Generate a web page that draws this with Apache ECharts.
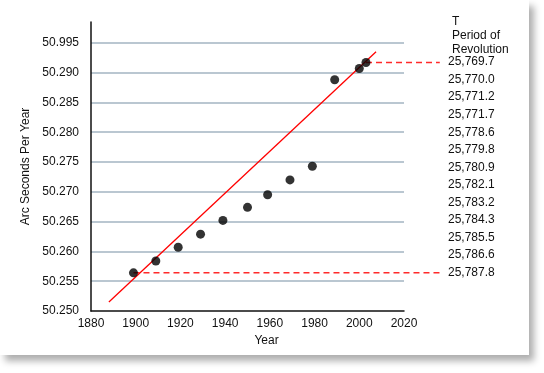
<!DOCTYPE html>
<html>
<head>
<meta charset="utf-8">
<script src="https://cdn.jsdelivr.net/npm/echarts@6/dist/echarts.min.js"></script>
<style>
html,body{margin:0;padding:0;background:#fff;}
#card{position:absolute;left:0;top:0;width:529px;height:355px;background:#fff;box-shadow:5px 6px 7px rgba(0,0,0,0.32);}
#chart{position:absolute;left:0;top:0;width:544px;height:373px;}
</style>
</head>
<body>
<div id="card"></div>
<div id="chart"></div>
<script>
// ---- data ----
const years = [1899, 1909, 1919, 1929, 1939, 1950, 1959, 1969, 1979, 1989, 2000, 2003];
const arcSeconds = [50.2564, 50.2584, 50.2607, 50.2629, 50.2652, 50.2674, 50.2695, 50.2720, 50.2743, 50.2888, 50.2907, 50.2917];
const trendYears = [1888, 2007.5];
const trendValues = [50.2515, 50.2935];
const yTickValues = [50.250, 50.255, 50.260, 50.265, 50.270, 50.275, 50.280, 50.285, 50.290, 50.295];
const yTickLabels = ['50.250', '50.255', '50.260', '50.265', '50.270', '50.275', '50.280', '50.285', '50.290', '50.995'];
const xTickLabels = ['1880', '1900', '1920', '1940', '1960', '1980', '2000', '2020'];
const periods = ['25,769.7', '25,770.0', '25,771.2', '25,771.7', '25,778.6', '25,779.8', '25,780.9', '25,782.1', '25,783.2', '25,784.3', '25,785.5', '25,786.6', '25,787.8'];
const leaderFrom = [0, 11];      // indices of points that get a dashed leader line
const leaderEndYear = 2036;

const FONT = 'Liberation Sans, Arial, Helvetica, sans-serif';
const yMin = 50.250, yMax = 50.2985, yStep = 0.005;

const chart = echarts.init(document.getElementById('chart'), null, {renderer: 'canvas'});

const leaderSeries = leaderFrom.map(i => ({
  type: 'line', xAxisIndex: 1, yAxisIndex: 1, symbol: 'none', silent: true, z: 1,
  lineStyle: {color: '#ff2a2a', width: 1.5, type: [6, 4]},
  data: [[years[i], arcSeconds[i]], [leaderEndYear, arcSeconds[i]]]
}));

chart.setOption({
  animation: false,
  backgroundColor: 'transparent',
  textStyle: {fontFamily: FONT},
  title: {
    text: 'T\nPeriod of\nRevolution',
    left: 447, top: 10,
    textStyle: {fontFamily: FONT, fontSize: 12, fontWeight: 'normal', color: '#111', lineHeight: 14}
  },
  grid: [
    {left: 91, right: 140, top: 22, bottom: 62},
    {left: 91, right: 104.2, top: 22, bottom: 62},
    {left: 440, width: 1, top: 53.2, height: 228.3}
  ],
  xAxis: [
    {
      type: 'value', gridIndex: 0, min: 1880, max: 2020, interval: 20,
      name: 'Year', nameLocation: 'middle', nameGap: 20,
      nameTextStyle: {fontFamily: FONT, fontSize: 12, color: '#111', padding: [0, 0, 0, 38]},
      axisLine: {show: true, lineStyle: {color: '#111', width: 1.5}},
      axisTick: {show: false},
      splitLine: {show: false},
      axisLabel: {
        margin: 7, fontFamily: FONT, fontSize: 12, color: '#111',
        formatter: v => { const i = Math.round((v - 1880) / 20); return xTickLabels[i] || ''; }
      }
    },
    {type: 'value', gridIndex: 1, min: 1880, max: leaderEndYear, show: false},
    {type: 'value', gridIndex: 2, min: 0, max: 1, show: false}
  ],
  yAxis: [
    {
      type: 'value', gridIndex: 0, min: yMin, max: yMax, interval: yStep,
      name: 'Arc Seconds Per Year', nameLocation: 'middle', nameGap: 55, nameRotate: 90,
      nameTextStyle: {fontFamily: FONT, fontSize: 12, color: '#111'},
      axisLine: {show: true, lineStyle: {color: '#111', width: 1.5}},
      axisTick: {show: false},
      axisLabel: {
        margin: 12, fontFamily: FONT, fontSize: 12, color: '#111', showMaxLabel: false,
        formatter: v => {
          for (let i = 0; i < yTickValues.length; i++) if (Math.abs(v - yTickValues[i]) < 1e-6) return yTickLabels[i];
          return '';
        }
      },
      splitLine: {show: true, showMinLine: false, showMaxLine: false, lineStyle: {color: '#a3b4c2', width: 1.6}}
    },
    {type: 'value', gridIndex: 1, min: yMin, max: yMax, show: false},
    {
      type: 'category', gridIndex: 2, position: 'right', inverse: true, data: periods,
      axisLine: {show: false}, axisTick: {show: false}, splitLine: {show: false},
      axisLabel: {margin: 7, fontFamily: FONT, fontSize: 12, color: '#111'}
    }
  ],
  series: [
    ...leaderSeries,
    {
      type: 'line', xAxisIndex: 0, yAxisIndex: 0, symbol: 'none', silent: true, z: 3,
      lineStyle: {color: '#ff0000', width: 1.3},
      data: trendYears.map((y, i) => [y, trendValues[i]])
    },
    {
      type: 'scatter', xAxisIndex: 0, yAxisIndex: 0, symbolSize: 9, z: 4,
      itemStyle: {color: '#000'},
      data: years.map((y, i) => [y, arcSeconds[i]])
    }
  ]
});
</script>
</body>
</html>
